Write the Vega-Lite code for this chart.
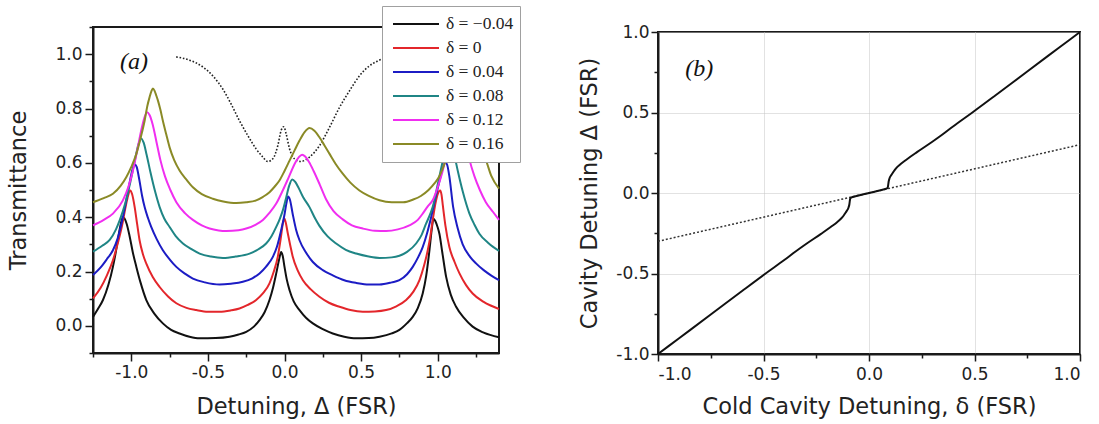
{
"$schema": "https://vega.github.io/schema/vega-lite/v6.json",
"background": "white",
"padding": {"left": 6, "top": 5, "right": 0, "bottom": 0},
"spacing": 73,
"config": {
 "font": "DejaVu Sans",
 "view": {"stroke": "#1a1a1a", "strokeWidth": 2},
 "axis": {"domainColor": "#1a1a1a", "domainWidth": 2, "tickColor": "#1a1a1a", "tickWidth": 1.5, "labelFont": "DejaVu Sans", "labelFontSize": 17, "labelColor": "#222", "titleFont": "DejaVu Sans", "titleFontSize": 22.5, "titleFontWeight": "normal", "titleColor": "#222", "grid": false}
},
"datasets": {
 "a": [
{"s":"δ = −0.04","x":-1.25,"y":0.033},{"s":"δ = −0.04","x":-1.22,"y":0.06},{"s":"δ = −0.04","x":-1.185,"y":0.095},{"s":"δ = −0.04","x":-1.15,"y":0.15},{"s":"δ = −0.04","x":-1.12,"y":0.217},{"s":"δ = −0.04","x":-1.1,"y":0.275},{"s":"δ = −0.04","x":-1.081,"y":0.339},{"s":"δ = −0.04","x":-1.066,"y":0.382},{"s":"δ = −0.04","x":-1.055,"y":0.4},{"s":"δ = −0.04","x":-1.045,"y":0.396},{"s":"δ = −0.04","x":-1.03,"y":0.375},{"s":"δ = −0.04","x":-1.011,"y":0.33},{"s":"δ = −0.04","x":-0.99,"y":0.27},{"s":"δ = −0.04","x":-0.967,"y":0.217},{"s":"δ = −0.04","x":-0.94,"y":0.16},{"s":"δ = −0.04","x":-0.902,"y":0.095},{"s":"δ = −0.04","x":-0.85,"y":0.045},{"s":"δ = −0.04","x":-0.794,"y":0.009},{"s":"δ = −0.04","x":-0.74,"y":-0.015},{"s":"δ = −0.04","x":-0.685,"y":-0.028},{"s":"δ = −0.04","x":-0.62,"y":-0.04},{"s":"δ = −0.04","x":-0.554,"y":-0.046},{"s":"δ = −0.04","x":-0.45,"y":-0.045},{"s":"δ = −0.04","x":-0.359,"y":-0.04},{"s":"δ = −0.04","x":-0.3,"y":-0.032},{"s":"δ = −0.04","x":-0.25,"y":-0.022},{"s":"δ = −0.04","x":-0.2,"y":-0.003},{"s":"δ = −0.04","x":-0.163,"y":0.021},{"s":"δ = −0.04","x":-0.13,"y":0.05},{"s":"δ = −0.04","x":-0.098,"y":0.095},{"s":"δ = −0.04","x":-0.075,"y":0.14},{"s":"δ = −0.04","x":-0.054,"y":0.193},{"s":"δ = −0.04","x":-0.035,"y":0.245},{"s":"δ = −0.04","x":-0.022,"y":0.272},{"s":"δ = −0.04","x":-0.012,"y":0.258},{"s":"δ = −0.04","x":0,"y":0.217},{"s":"δ = −0.04","x":0.015,"y":0.17},{"s":"δ = −0.04","x":0.033,"y":0.131},{"s":"δ = −0.04","x":0.06,"y":0.09},{"s":"δ = −0.04","x":0.098,"y":0.058},{"s":"δ = −0.04","x":0.14,"y":0.03},{"s":"δ = −0.04","x":0.185,"y":0.009},{"s":"δ = −0.04","x":0.25,"y":-0.012},{"s":"δ = −0.04","x":0.315,"y":-0.028},{"s":"δ = −0.04","x":0.39,"y":-0.04},{"s":"δ = −0.04","x":0.468,"y":-0.046},{"s":"δ = −0.04","x":0.55,"y":-0.045},{"s":"δ = −0.04","x":0.62,"y":-0.04},{"s":"δ = −0.04","x":0.7,"y":-0.028},{"s":"δ = −0.04","x":0.75,"y":-0.015},{"s":"δ = −0.04","x":0.8,"y":0.01},{"s":"δ = −0.04","x":0.837,"y":0.033},{"s":"δ = −0.04","x":0.87,"y":0.065},{"s":"δ = −0.04","x":0.902,"y":0.119},{"s":"δ = −0.04","x":0.925,"y":0.185},{"s":"δ = −0.04","x":0.946,"y":0.278},{"s":"δ = −0.04","x":0.962,"y":0.36},{"s":"δ = −0.04","x":0.972,"y":0.394},{"s":"δ = −0.04","x":0.985,"y":0.385},{"s":"δ = −0.04","x":1.0,"y":0.362},{"s":"δ = −0.04","x":1.011,"y":0.339},{"s":"δ = −0.04","x":1.03,"y":0.27},{"s":"δ = −0.04","x":1.055,"y":0.18},{"s":"δ = −0.04","x":1.085,"y":0.115},{"s":"δ = −0.04","x":1.12,"y":0.07},{"s":"δ = −0.04","x":1.17,"y":0.03},{"s":"δ = −0.04","x":1.228,"y":-0.003},{"s":"δ = −0.04","x":1.3,"y":-0.025},{"s":"δ = −0.04","x":1.4,"y":-0.042},
{"s":"δ = 0","x":-1.25,"y":0.101},{"s":"δ = 0","x":-1.2,"y":0.14},{"s":"δ = 0","x":-1.16,"y":0.185},{"s":"δ = 0","x":-1.12,"y":0.241},{"s":"δ = 0","x":-1.09,"y":0.3},{"s":"δ = 0","x":-1.06,"y":0.37},{"s":"δ = 0","x":-1.04,"y":0.43},{"s":"δ = 0","x":-1.025,"y":0.47},{"s":"δ = 0","x":-1.007,"y":0.498},{"s":"δ = 0","x":-0.995,"y":0.485},{"s":"δ = 0","x":-0.978,"y":0.437},{"s":"δ = 0","x":-0.962,"y":0.375},{"s":"δ = 0","x":-0.946,"y":0.315},{"s":"δ = 0","x":-0.925,"y":0.265},{"s":"δ = 0","x":-0.902,"y":0.229},{"s":"δ = 0","x":-0.86,"y":0.18},{"s":"δ = 0","x":-0.815,"y":0.143},{"s":"δ = 0","x":-0.76,"y":0.108},{"s":"δ = 0","x":-0.706,"y":0.083},{"s":"δ = 0","x":-0.64,"y":0.066},{"s":"δ = 0","x":-0.576,"y":0.058},{"s":"δ = 0","x":-0.5,"y":0.052},{"s":"δ = 0","x":-0.424,"y":0.052},{"s":"δ = 0","x":-0.35,"y":0.057},{"s":"δ = 0","x":-0.294,"y":0.064},{"s":"δ = 0","x":-0.24,"y":0.077},{"s":"δ = 0","x":-0.185,"y":0.095},{"s":"δ = 0","x":-0.14,"y":0.12},{"s":"δ = 0","x":-0.098,"y":0.156},{"s":"δ = 0","x":-0.07,"y":0.2},{"s":"δ = 0","x":-0.044,"y":0.254},{"s":"δ = 0","x":-0.025,"y":0.32},{"s":"δ = 0","x":-0.008,"y":0.385},{"s":"δ = 0","x":0,"y":0.394},{"s":"δ = 0","x":0.008,"y":0.38},{"s":"δ = 0","x":0.022,"y":0.339},{"s":"δ = 0","x":0.038,"y":0.295},{"s":"δ = 0","x":0.054,"y":0.254},{"s":"δ = 0","x":0.085,"y":0.205},{"s":"δ = 0","x":0.12,"y":0.168},{"s":"δ = 0","x":0.17,"y":0.135},{"s":"δ = 0","x":0.228,"y":0.107},{"s":"δ = 0","x":0.29,"y":0.085},{"s":"δ = 0","x":0.359,"y":0.07},{"s":"δ = 0","x":0.43,"y":0.058},{"s":"δ = 0","x":0.511,"y":0.052},{"s":"δ = 0","x":0.59,"y":0.053},{"s":"δ = 0","x":0.663,"y":0.058},{"s":"δ = 0","x":0.73,"y":0.072},{"s":"δ = 0","x":0.794,"y":0.095},{"s":"δ = 0","x":0.84,"y":0.125},{"s":"δ = 0","x":0.881,"y":0.168},{"s":"δ = 0","x":0.91,"y":0.22},{"s":"δ = 0","x":0.935,"y":0.278},{"s":"δ = 0","x":0.952,"y":0.33},{"s":"δ = 0","x":0.967,"y":0.388},{"s":"δ = 0","x":0.985,"y":0.45},{"s":"δ = 0","x":1.0,"y":0.485},{"s":"δ = 0","x":1.016,"y":0.498},{"s":"δ = 0","x":1.025,"y":0.482},{"s":"δ = 0","x":1.033,"y":0.445},{"s":"δ = 0","x":1.05,"y":0.37},{"s":"δ = 0","x":1.076,"y":0.29},{"s":"δ = 0","x":1.11,"y":0.235},{"s":"δ = 0","x":1.142,"y":0.193},{"s":"δ = 0","x":1.185,"y":0.15},{"s":"δ = 0","x":1.228,"y":0.119},{"s":"δ = 0","x":1.3,"y":0.088},{"s":"δ = 0","x":1.4,"y":0.062},
{"s":"δ = 0.04","x":-1.25,"y":0.187},{"s":"δ = 0.04","x":-1.2,"y":0.215},{"s":"δ = 0.04","x":-1.16,"y":0.245},{"s":"δ = 0.04","x":-1.12,"y":0.278},{"s":"δ = 0.04","x":-1.09,"y":0.32},{"s":"δ = 0.04","x":-1.055,"y":0.4},{"s":"δ = 0.04","x":-1.03,"y":0.47},{"s":"δ = 0.04","x":-1.01,"y":0.53},{"s":"δ = 0.04","x":-0.995,"y":0.57},{"s":"δ = 0.04","x":-0.977,"y":0.594},{"s":"δ = 0.04","x":-0.965,"y":0.585},{"s":"δ = 0.04","x":-0.95,"y":0.545},{"s":"δ = 0.04","x":-0.93,"y":0.48},{"s":"δ = 0.04","x":-0.913,"y":0.437},{"s":"δ = 0.04","x":-0.89,"y":0.395},{"s":"δ = 0.04","x":-0.87,"y":0.364},{"s":"δ = 0.04","x":-0.835,"y":0.32},{"s":"δ = 0.04","x":-0.794,"y":0.278},{"s":"δ = 0.04","x":-0.75,"y":0.245},{"s":"δ = 0.04","x":-0.706,"y":0.217},{"s":"δ = 0.04","x":-0.65,"y":0.192},{"s":"δ = 0.04","x":-0.598,"y":0.174},{"s":"δ = 0.04","x":-0.52,"y":0.16},{"s":"δ = 0.04","x":-0.424,"y":0.152},{"s":"δ = 0.04","x":-0.35,"y":0.155},{"s":"δ = 0.04","x":-0.272,"y":0.162},{"s":"δ = 0.04","x":-0.21,"y":0.175},{"s":"δ = 0.04","x":-0.163,"y":0.193},{"s":"δ = 0.04","x":-0.12,"y":0.218},{"s":"δ = 0.04","x":-0.076,"y":0.254},{"s":"δ = 0.04","x":-0.05,"y":0.29},{"s":"δ = 0.04","x":-0.022,"y":0.352},{"s":"δ = 0.04","x":0,"y":0.41},{"s":"δ = 0.04","x":0.012,"y":0.45},{"s":"δ = 0.04","x":0.023,"y":0.476},{"s":"δ = 0.04","x":0.035,"y":0.465},{"s":"δ = 0.04","x":0.054,"y":0.41},{"s":"δ = 0.04","x":0.075,"y":0.355},{"s":"δ = 0.04","x":0.098,"y":0.315},{"s":"δ = 0.04","x":0.14,"y":0.27},{"s":"δ = 0.04","x":0.185,"y":0.235},{"s":"δ = 0.04","x":0.25,"y":0.205},{"s":"δ = 0.04","x":0.315,"y":0.186},{"s":"δ = 0.04","x":0.39,"y":0.168},{"s":"δ = 0.04","x":0.468,"y":0.158},{"s":"δ = 0.04","x":0.55,"y":0.152},{"s":"δ = 0.04","x":0.62,"y":0.152},{"s":"δ = 0.04","x":0.7,"y":0.16},{"s":"δ = 0.04","x":0.75,"y":0.168},{"s":"δ = 0.04","x":0.8,"y":0.19},{"s":"δ = 0.04","x":0.837,"y":0.217},{"s":"δ = 0.04","x":0.87,"y":0.25},{"s":"δ = 0.04","x":0.902,"y":0.29},{"s":"δ = 0.04","x":0.93,"y":0.34},{"s":"δ = 0.04","x":0.957,"y":0.4},{"s":"δ = 0.04","x":0.985,"y":0.47},{"s":"δ = 0.04","x":1.01,"y":0.53},{"s":"δ = 0.04","x":1.03,"y":0.575},{"s":"δ = 0.04","x":1.05,"y":0.602},{"s":"δ = 0.04","x":1.062,"y":0.592},{"s":"δ = 0.04","x":1.076,"y":0.55},{"s":"δ = 0.04","x":1.1,"y":0.44},{"s":"δ = 0.04","x":1.13,"y":0.36},{"s":"δ = 0.04","x":1.163,"y":0.3},{"s":"δ = 0.04","x":1.21,"y":0.255},{"s":"δ = 0.04","x":1.25,"y":0.23},{"s":"δ = 0.04","x":1.3,"y":0.205},{"s":"δ = 0.04","x":1.35,"y":0.185},{"s":"δ = 0.04","x":1.4,"y":0.168},
{"s":"δ = 0.08","x":-1.25,"y":0.273},{"s":"δ = 0.08","x":-1.19,"y":0.295},{"s":"δ = 0.08","x":-1.141,"y":0.316},{"s":"δ = 0.08","x":-1.1,"y":0.355},{"s":"δ = 0.08","x":-1.076,"y":0.388},{"s":"δ = 0.08","x":-1.04,"y":0.45},{"s":"δ = 0.08","x":-1.01,"y":0.52},{"s":"δ = 0.08","x":-0.98,"y":0.6},{"s":"δ = 0.08","x":-0.955,"y":0.665},{"s":"δ = 0.08","x":-0.936,"y":0.69},{"s":"δ = 0.08","x":-0.92,"y":0.675},{"s":"δ = 0.08","x":-0.9,"y":0.63},{"s":"δ = 0.08","x":-0.875,"y":0.565},{"s":"δ = 0.08","x":-0.845,"y":0.495},{"s":"δ = 0.08","x":-0.815,"y":0.437},{"s":"δ = 0.08","x":-0.785,"y":0.395},{"s":"δ = 0.08","x":-0.75,"y":0.364},{"s":"δ = 0.08","x":-0.71,"y":0.33},{"s":"δ = 0.08","x":-0.663,"y":0.303},{"s":"δ = 0.08","x":-0.61,"y":0.283},{"s":"δ = 0.08","x":-0.554,"y":0.266},{"s":"δ = 0.08","x":-0.48,"y":0.255},{"s":"δ = 0.08","x":-0.402,"y":0.25},{"s":"δ = 0.08","x":-0.32,"y":0.255},{"s":"δ = 0.08","x":-0.228,"y":0.266},{"s":"δ = 0.08","x":-0.17,"y":0.282},{"s":"δ = 0.08","x":-0.12,"y":0.303},{"s":"δ = 0.08","x":-0.085,"y":0.33},{"s":"δ = 0.08","x":-0.054,"y":0.364},{"s":"δ = 0.08","x":-0.03,"y":0.395},{"s":"δ = 0.08","x":-0.011,"y":0.425},{"s":"δ = 0.08","x":0.01,"y":0.47},{"s":"δ = 0.08","x":0.03,"y":0.515},{"s":"δ = 0.08","x":0.05,"y":0.539},{"s":"δ = 0.08","x":0.07,"y":0.53},{"s":"δ = 0.08","x":0.09,"y":0.51},{"s":"δ = 0.08","x":0.12,"y":0.475},{"s":"δ = 0.08","x":0.163,"y":0.437},{"s":"δ = 0.08","x":0.2,"y":0.395},{"s":"δ = 0.08","x":0.228,"y":0.368},{"s":"δ = 0.08","x":0.28,"y":0.33},{"s":"δ = 0.08","x":0.337,"y":0.303},{"s":"δ = 0.08","x":0.4,"y":0.28},{"s":"δ = 0.08","x":0.468,"y":0.266},{"s":"δ = 0.08","x":0.55,"y":0.255},{"s":"δ = 0.08","x":0.62,"y":0.25},{"s":"δ = 0.08","x":0.7,"y":0.252},{"s":"δ = 0.08","x":0.75,"y":0.258},{"s":"δ = 0.08","x":0.8,"y":0.272},{"s":"δ = 0.08","x":0.859,"y":0.303},{"s":"δ = 0.08","x":0.895,"y":0.335},{"s":"δ = 0.08","x":0.924,"y":0.376},{"s":"δ = 0.08","x":0.95,"y":0.41},{"s":"δ = 0.08","x":0.967,"y":0.437},{"s":"δ = 0.08","x":1.0,"y":0.52},{"s":"δ = 0.08","x":1.03,"y":0.6},{"s":"δ = 0.08","x":1.055,"y":0.665},{"s":"δ = 0.08","x":1.072,"y":0.69},{"s":"δ = 0.08","x":1.088,"y":0.675},{"s":"δ = 0.08","x":1.108,"y":0.63},{"s":"δ = 0.08","x":1.133,"y":0.565},{"s":"δ = 0.08","x":1.163,"y":0.495},{"s":"δ = 0.08","x":1.207,"y":0.413},{"s":"δ = 0.08","x":1.24,"y":0.372},{"s":"δ = 0.08","x":1.272,"y":0.339},{"s":"δ = 0.08","x":1.33,"y":0.305},{"s":"δ = 0.08","x":1.4,"y":0.276},
{"s":"δ = 0.12","x":-1.25,"y":0.37},{"s":"δ = 0.12","x":-1.18,"y":0.39},{"s":"δ = 0.12","x":-1.12,"y":0.413},{"s":"δ = 0.12","x":-1.055,"y":0.462},{"s":"δ = 0.12","x":-1.02,"y":0.51},{"s":"δ = 0.12","x":-0.99,"y":0.57},{"s":"δ = 0.12","x":-0.96,"y":0.65},{"s":"δ = 0.12","x":-0.935,"y":0.72},{"s":"δ = 0.12","x":-0.915,"y":0.765},{"s":"δ = 0.12","x":-0.897,"y":0.786},{"s":"δ = 0.12","x":-0.88,"y":0.775},{"s":"δ = 0.12","x":-0.86,"y":0.74},{"s":"δ = 0.12","x":-0.835,"y":0.675},{"s":"δ = 0.12","x":-0.81,"y":0.61},{"s":"δ = 0.12","x":-0.78,"y":0.55},{"s":"δ = 0.12","x":-0.745,"y":0.5},{"s":"δ = 0.12","x":-0.706,"y":0.455},{"s":"δ = 0.12","x":-0.65,"y":0.415},{"s":"δ = 0.12","x":-0.598,"y":0.39},{"s":"δ = 0.12","x":-0.54,"y":0.37},{"s":"δ = 0.12","x":-0.489,"y":0.358},{"s":"δ = 0.12","x":-0.43,"y":0.351},{"s":"δ = 0.12","x":-0.38,"y":0.349},{"s":"δ = 0.12","x":-0.3,"y":0.352},{"s":"δ = 0.12","x":-0.25,"y":0.358},{"s":"δ = 0.12","x":-0.19,"y":0.372},{"s":"δ = 0.12","x":-0.141,"y":0.39},{"s":"δ = 0.12","x":-0.1,"y":0.415},{"s":"δ = 0.12","x":-0.054,"y":0.45},{"s":"δ = 0.12","x":-0.01,"y":0.5},{"s":"δ = 0.12","x":0.03,"y":0.55},{"s":"δ = 0.12","x":0.07,"y":0.6},{"s":"δ = 0.12","x":0.095,"y":0.622},{"s":"δ = 0.12","x":0.115,"y":0.63},{"s":"δ = 0.12","x":0.135,"y":0.623},{"s":"δ = 0.12","x":0.16,"y":0.603},{"s":"δ = 0.12","x":0.19,"y":0.57},{"s":"δ = 0.12","x":0.23,"y":0.52},{"s":"δ = 0.12","x":0.272,"y":0.465},{"s":"δ = 0.12","x":0.32,"y":0.422},{"s":"δ = 0.12","x":0.38,"y":0.392},{"s":"δ = 0.12","x":0.44,"y":0.37},{"s":"δ = 0.12","x":0.511,"y":0.358},{"s":"δ = 0.12","x":0.59,"y":0.35},{"s":"δ = 0.12","x":0.663,"y":0.349},{"s":"δ = 0.12","x":0.74,"y":0.355},{"s":"δ = 0.12","x":0.815,"y":0.37},{"s":"δ = 0.12","x":0.87,"y":0.39},{"s":"δ = 0.12","x":0.902,"y":0.413},{"s":"δ = 0.12","x":0.935,"y":0.44},{"s":"δ = 0.12","x":0.967,"y":0.462},{"s":"δ = 0.12","x":1.0,"y":0.51},{"s":"δ = 0.12","x":1.03,"y":0.565},{"s":"δ = 0.12","x":1.06,"y":0.64},{"s":"δ = 0.12","x":1.085,"y":0.72},{"s":"δ = 0.12","x":1.103,"y":0.765},{"s":"δ = 0.12","x":1.12,"y":0.786},{"s":"δ = 0.12","x":1.138,"y":0.775},{"s":"δ = 0.12","x":1.158,"y":0.74},{"s":"δ = 0.12","x":1.183,"y":0.675},{"s":"δ = 0.12","x":1.208,"y":0.61},{"s":"δ = 0.12","x":1.24,"y":0.55},{"s":"δ = 0.12","x":1.275,"y":0.5},{"s":"δ = 0.12","x":1.314,"y":0.455},{"s":"δ = 0.12","x":1.36,"y":0.42},{"s":"δ = 0.12","x":1.4,"y":0.39},
{"s":"δ = 0.16","x":-1.25,"y":0.455},{"s":"δ = 0.16","x":-1.18,"y":0.47},{"s":"δ = 0.16","x":-1.12,"y":0.486},{"s":"δ = 0.16","x":-1.07,"y":0.515},{"s":"δ = 0.16","x":-1.033,"y":0.547},{"s":"δ = 0.16","x":-1.0,"y":0.585},{"s":"δ = 0.16","x":-0.967,"y":0.633},{"s":"δ = 0.16","x":-0.94,"y":0.69},{"s":"δ = 0.16","x":-0.913,"y":0.755},{"s":"δ = 0.16","x":-0.895,"y":0.81},{"s":"δ = 0.16","x":-0.881,"y":0.841},{"s":"δ = 0.16","x":-0.868,"y":0.865},{"s":"δ = 0.16","x":-0.859,"y":0.874},{"s":"δ = 0.16","x":-0.848,"y":0.865},{"s":"δ = 0.16","x":-0.837,"y":0.848},{"s":"δ = 0.16","x":-0.826,"y":0.829},{"s":"δ = 0.16","x":-0.81,"y":0.795},{"s":"δ = 0.16","x":-0.794,"y":0.755},{"s":"δ = 0.16","x":-0.772,"y":0.705},{"s":"δ = 0.16","x":-0.75,"y":0.657},{"s":"δ = 0.16","x":-0.72,"y":0.61},{"s":"δ = 0.16","x":-0.685,"y":0.572},{"s":"δ = 0.16","x":-0.64,"y":0.538},{"s":"δ = 0.16","x":-0.598,"y":0.51},{"s":"δ = 0.16","x":-0.54,"y":0.485},{"s":"δ = 0.16","x":-0.468,"y":0.468},{"s":"δ = 0.16","x":-0.4,"y":0.458},{"s":"δ = 0.16","x":-0.315,"y":0.452},{"s":"δ = 0.16","x":-0.25,"y":0.455},{"s":"δ = 0.16","x":-0.185,"y":0.462},{"s":"δ = 0.16","x":-0.14,"y":0.475},{"s":"δ = 0.16","x":-0.098,"y":0.492},{"s":"δ = 0.16","x":-0.065,"y":0.512},{"s":"δ = 0.16","x":-0.033,"y":0.535},{"s":"δ = 0.16","x":0,"y":0.57},{"s":"δ = 0.16","x":0.033,"y":0.608},{"s":"δ = 0.16","x":0.065,"y":0.645},{"s":"δ = 0.16","x":0.098,"y":0.682},{"s":"δ = 0.16","x":0.13,"y":0.712},{"s":"δ = 0.16","x":0.163,"y":0.728},{"s":"δ = 0.16","x":0.195,"y":0.718},{"s":"δ = 0.16","x":0.228,"y":0.694},{"s":"δ = 0.16","x":0.26,"y":0.665},{"s":"δ = 0.16","x":0.294,"y":0.633},{"s":"δ = 0.16","x":0.335,"y":0.595},{"s":"δ = 0.16","x":0.38,"y":0.56},{"s":"δ = 0.16","x":0.43,"y":0.527},{"s":"δ = 0.16","x":0.489,"y":0.498},{"s":"δ = 0.16","x":0.55,"y":0.478},{"s":"δ = 0.16","x":0.62,"y":0.462},{"s":"δ = 0.16","x":0.7,"y":0.455},{"s":"δ = 0.16","x":0.775,"y":0.455},{"s":"δ = 0.16","x":0.84,"y":0.465},{"s":"δ = 0.16","x":0.89,"y":0.478},{"s":"δ = 0.16","x":0.94,"y":0.5},{"s":"δ = 0.16","x":0.98,"y":0.525},{"s":"δ = 0.16","x":1.005,"y":0.545},{"s":"δ = 0.16","x":1.04,"y":0.59},{"s":"δ = 0.16","x":1.07,"y":0.64},{"s":"δ = 0.16","x":1.1,"y":0.71},{"s":"δ = 0.16","x":1.125,"y":0.78},{"s":"δ = 0.16","x":1.14,"y":0.83},{"s":"δ = 0.16","x":1.155,"y":0.865},{"s":"δ = 0.16","x":1.165,"y":0.875},{"s":"δ = 0.16","x":1.175,"y":0.868},{"s":"δ = 0.16","x":1.19,"y":0.84},{"s":"δ = 0.16","x":1.21,"y":0.79},{"s":"δ = 0.16","x":1.235,"y":0.73},{"s":"δ = 0.16","x":1.26,"y":0.68},{"s":"δ = 0.16","x":1.29,"y":0.635},{"s":"δ = 0.16","x":1.314,"y":0.61},{"s":"δ = 0.16","x":1.349,"y":0.553},{"s":"δ = 0.16","x":1.4,"y":0.505}
 ],
 "dot": [
{"x":-0.707,"y":0.99},{"x":-0.62,"y":0.978},{"x":-0.533,"y":0.953},{"x":-0.468,"y":0.92},{"x":-0.402,"y":0.871},{"x":-0.348,"y":0.816},{"x":-0.294,"y":0.755},{"x":-0.239,"y":0.7},{"x":-0.185,"y":0.651},{"x":-0.141,"y":0.621},{"x":-0.109,"y":0.605},{"x":-0.076,"y":0.615},{"x":-0.044,"y":0.663},{"x":-0.022,"y":0.719},{"x":-0.005,"y":0.733},{"x":0.011,"y":0.706},{"x":0.033,"y":0.651},{"x":0.065,"y":0.615},{"x":0.104,"y":0.605},{"x":0.163,"y":0.621},{"x":0.228,"y":0.663},{"x":0.294,"y":0.731},{"x":0.359,"y":0.804},{"x":0.424,"y":0.865},{"x":0.489,"y":0.92},{"x":0.554,"y":0.957},{"x":0.609,"y":0.975},{"x":0.68,"y":0.99},{"x":0.75,"y":0.995}
 ],
 "b": [
{"x":-1,"y":-1},{"x":-0.9,"y":-0.902},{"x":-0.75,"y":-0.755},{"x":-0.6,"y":-0.607},{"x":-0.49,"y":-0.5},{"x":-0.4,"y":-0.415},{"x":-0.348,"y":-0.363},{"x":-0.3,"y":-0.318},{"x":-0.229,"y":-0.255},{"x":-0.18,"y":-0.21},{"x":-0.15,"y":-0.18},{"x":-0.127,"y":-0.152},{"x":-0.115,"y":-0.13},{"x":-0.105,"y":-0.11},{"x":-0.097,"y":-0.09},{"x":-0.093,"y":-0.07},{"x":-0.091,"y":-0.05},{"x":-0.089,"y":-0.035},{"x":-0.085,"y":-0.028},{"x":-0.06,"y":-0.019},{"x":-0.03,"y":-0.009},{"x":0,"y":0},{"x":0.03,"y":0.009},{"x":0.06,"y":0.019},{"x":0.085,"y":0.028},{"x":0.089,"y":0.035},{"x":0.091,"y":0.05},{"x":0.093,"y":0.07},{"x":0.097,"y":0.09},{"x":0.105,"y":0.11},{"x":0.115,"y":0.13},{"x":0.127,"y":0.152},{"x":0.15,"y":0.18},{"x":0.18,"y":0.21},{"x":0.229,"y":0.255},{"x":0.3,"y":0.318},{"x":0.348,"y":0.363},{"x":0.4,"y":0.415},{"x":0.49,"y":0.5},{"x":0.6,"y":0.607},{"x":0.75,"y":0.755},{"x":0.9,"y":0.902},{"x":1,"y":1}
 ],
 "bd": [{"x":-1,"y":-0.3},{"x":1,"y":0.3}]
},
"hconcat": [
 {
  "width": 406, "height": 326,
  "layer": [
   {
    "data": {"name": "dot"},
    "mark": {"type": "line", "interpolate": "monotone", "color": "#222", "strokeWidth": 1.6, "strokeDash": [1.6, 1.8]},
    "encoding": {
     "x": {"field": "x", "type": "quantitative", "scale": {"domain": [-1.25, 1.4], "nice": false, "zero": false}, "axis": {"orient": "bottom", "values": [-1.25, -0.75, -0.25, 0.25, 0.75, 1.25], "labels": false, "domain": false, "tickSize": 4, "title": null}},
     "y": {"field": "y", "type": "quantitative", "scale": {"domain": [-0.1, 1.1], "nice": false, "zero": false}, "axis": {"orient": "left", "values": [-0.1, 0.1, 0.3, 0.5, 0.7, 0.9, 1.1], "labels": false, "domain": false, "tickSize": 4, "title": null}}
    }
   },
   {
    "data": {"name": "a"},
    "mark": {"type": "line", "interpolate": "monotone", "strokeWidth": 2},
    "encoding": {
     "x": {"field": "x", "type": "quantitative", "scale": {"domain": [-1.25, 1.4], "nice": false, "zero": false}, "axis": {"orient": "bottom", "values": [-1, -0.5, 0, 0.5, 1], "labelExpr": "replace(format(datum.value, '.1f'), '−', '-')", "tickSize": 8, "labelPadding": 3, "title": "Detuning, Δ (FSR)", "titlePadding": 15}},
     "y": {"field": "y", "type": "quantitative", "scale": {"domain": [-0.1, 1.1], "nice": false, "zero": false}, "axis": {"orient": "left", "values": [0, 0.2, 0.4, 0.6, 0.8, 1.0], "labelExpr": "format(datum.value, '.1f')", "tickSize": 8, "labelPadding": 3, "title": "Transmittance", "titlePadding": 24}},
     "color": {"field": "s", "type": "nominal", "scale": {"domain": ["δ = −0.04", "δ = 0", "δ = 0.04", "δ = 0.08", "δ = 0.12", "δ = 0.16"], "range": ["#111111", "#e3262b", "#1c1cc4", "#1f8585", "#f02ef0", "#8a8a26"]},
      "legend": {"orient": "none", "legendX": 289, "legendY": -21, "title": null, "symbolType": "stroke", "symbolSize": 2116, "symbolStrokeWidth": 2, "clipHeight": 24, "rowPadding": 0, "symbolOffset": 4, "labelOffset": 6, "labelFont": "Liberation Serif", "labelFontSize": 17.5, "labelColor": "#222", "strokeColor": "#a0a0a0", "fillColor": "white", "padding": 6, "labelLimit": 200}}
    }
   },
   {
    "data": {"values": [{}]},
    "mark": {"type": "text", "font": "Liberation Serif", "fontStyle": "italic", "fontSize": 24, "color": "#111", "align": "center", "baseline": "middle"},
    "encoding": {"x": {"datum": -0.982, "type": "quantitative", "axis": null}, "y": {"datum": 0.972, "type": "quantitative", "axis": null}, "text": {"value": "(a)"}}
   }
  ],
  "resolve": {"axis": {"x": "independent", "y": "independent"}}
 },
 {
  "vconcat": [
   {
    "width": 422, "height": 1,
    "view": {"stroke": null},
    "data": {"values": [{}]},
    "mark": {"type": "text"},
    "encoding": {"text": {"value": ""}}
   },
   {
    "width": 422, "height": 322,
    "layer": [
     {
      "data": {"name": "bd"},
      "mark": {"type": "line", "color": "#333", "strokeWidth": 1.5, "strokeDash": [2, 2]},
      "encoding": {
       "x": {"field": "x", "type": "quantitative", "scale": {"domain": [-1, 1], "nice": false, "zero": false}, "axis": {"orient": "bottom", "values": [-0.75, -0.25, 0.25, 0.75], "labels": false, "domain": false, "tickSize": 4, "title": null}},
       "y": {"field": "y", "type": "quantitative", "scale": {"domain": [-1, 1], "nice": false, "zero": false}, "axis": {"orient": "left", "values": [-0.75, -0.25, 0.25, 0.75], "labels": false, "domain": false, "tickSize": 4, "title": null}}
      }
     },
     {
      "data": {"name": "b"},
      "mark": {"type": "line", "color": "#111", "strokeWidth": 2, "interpolate": "monotone"},
      "encoding": {
       "x": {"field": "x", "type": "quantitative", "scale": {"domain": [-1, 1], "nice": false, "zero": false}, "axis": {"orient": "bottom", "values": [-1, -0.5, 0, 0.5, 1], "labelExpr": "replace(format(datum.value, '.1f'), '−', '-')", "tickSize": 7, "labelPadding": 5, "grid": true, "gridColor": "#c4c4c4", "gridDash": [1, 1], "gridWidth": 1, "title": "Cold Cavity Detuning, δ (FSR)", "titlePadding": 13}},
       "y": {"field": "y", "type": "quantitative", "scale": {"domain": [-1, 1], "nice": false, "zero": false}, "axis": {"orient": "left", "values": [-1, -0.5, 0, 0.5, 1], "labelExpr": "replace(format(datum.value, '.1f'), '−', '-')", "tickSize": 7, "labelPadding": 2, "grid": true, "gridColor": "#c4c4c4", "gridDash": [1, 1], "gridWidth": 1, "title": "Cavity Detuning Δ (FSR)", "titlePadding": 14}}
      }
     },
     {
      "data": {"values": [{}]},
      "mark": {"type": "text", "font": "Liberation Serif", "fontStyle": "italic", "fontSize": 24, "color": "#111", "align": "center", "baseline": "middle"},
      "encoding": {"x": {"datum": -0.804, "type": "quantitative", "axis": null}, "y": {"datum": 0.77, "type": "quantitative", "axis": null}, "text": {"value": "(b)"}}
     }
    ],
    "resolve": {"axis": {"x": "independent", "y": "independent"}}
   }
  ],
  "spacing": 4,
  "bounds": "flush"
 }
]
}
